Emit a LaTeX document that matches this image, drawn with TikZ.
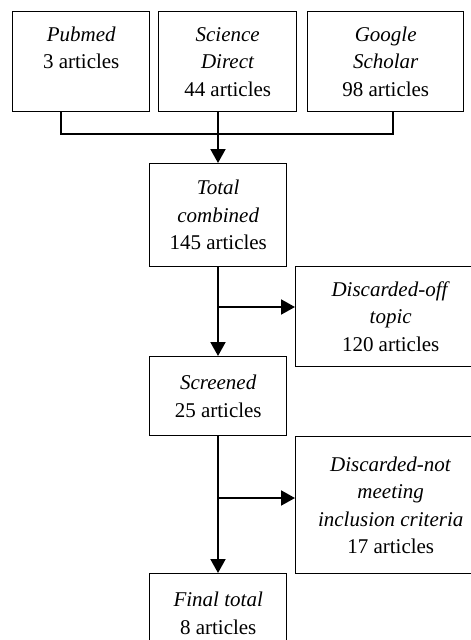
\documentclass[tikz,border=0pt]{standalone}
\usepackage{fontspec}
\setmainfont{Liberation Serif}
\usetikzlibrary{arrows.meta}
\begin{document}
\begin{tikzpicture}[x=1pt,y=-1pt,
  box/.style={draw,line width=1.4pt,inner sep=0pt,align=center,anchor=north west,
    font=\fontsize{21}{27.5}\selectfont},
  conn/.style={line width=2pt},
  arr/.style={conn,-{Triangle[length=14pt,width=15pt]}}]
\useasboundingbox (0,0) rectangle (471,640);
\node[box,minimum width=137pt,minimum height=100pt] (pub) at (12,11) {\textit{Pubmed}\\3 articles\\\phantom{3}};
\node[box,minimum width=138pt,minimum height=100pt] (sd) at (158,11) {\textit{Science}\\\textit{Direct}\\44 articles};
\node[box,minimum width=156pt,minimum height=100pt] (goo) at (307,11) {\textit{Google}\\\textit{Scholar}\\98 articles};
\node[box,minimum width=137pt,minimum height=103pt] (tot) at (149,163) {\textit{Total}\\\textit{combined}\\145 articles};
\node[box,minimum width=190pt,minimum height=100pt] (doff) at (295,266) {\textit{Discarded-off}\\\textit{topic}\\120 articles};
\node[box,minimum width=137pt,minimum height=79pt] (scr) at (149,356) {\textit{Screened}\\25 articles};
\node[box,minimum width=190pt,minimum height=137pt] (dnot) at (295,436) {\textit{Discarded-not}\\\textit{meeting}\\\textit{inclusion criteria}\\17 articles};
\node[box,minimum width=137pt,minimum height=79pt] (fin) at (149,573) {\textit{Final total}\\8 articles};
\coordinate (pd) at (61,134);
\coordinate (gd) at (393,134);
\coordinate (b1) at (218,307);
\coordinate (b2) at (218,498);
\draw[conn] (pub.south -| pd) -- (pd) -- (gd) -- (goo.south -| gd);
\draw[arr] (sd.south -| b1) -- (tot.north -| b1);
\draw[arr] (tot.south -| b1) -- (scr.north -| b1);
\draw[arr] (b1) -- (b1 -| doff.west);
\draw[arr] (scr.south -| b2) -- (fin.north -| b2);
\draw[arr] (b2) -- (b2 -| dnot.west);
\end{tikzpicture}
\end{document}
